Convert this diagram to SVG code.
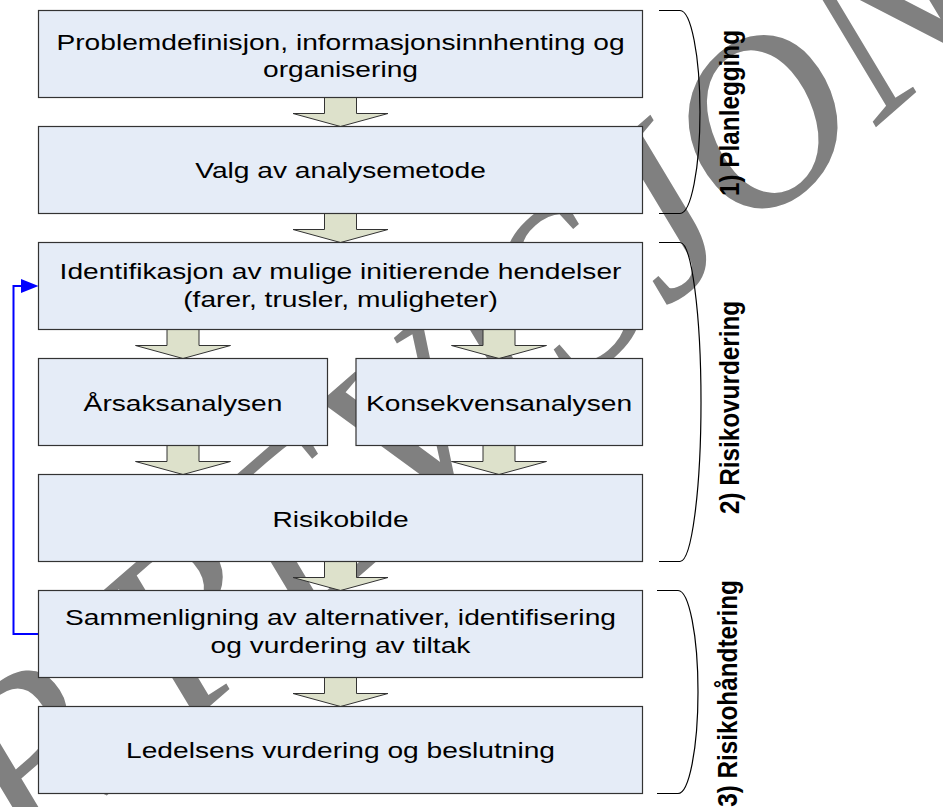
<svg xmlns="http://www.w3.org/2000/svg" xmlns:xlink="http://www.w3.org/1999/xlink" width="943" height="807" viewBox="0 0 943 807">
<style>
.box{fill:#E5ECF7;stroke:#333;stroke-width:1.2}
.t{font-family:"Liberation Sans",Arial,sans-serif;font-size:21.5px;fill:#000;text-anchor:middle}
.lbl{font-family:"Liberation Sans",Arial,sans-serif;font-size:24.3px;font-weight:bold;fill:#000;text-anchor:middle}
.brace{fill:none;stroke:#000;stroke-width:1.2}
.blk{fill:#DDE1CB;stroke:#333;stroke-width:1}
.wm{font-family:"Liberation Serif","Times New Roman",serif;font-style:italic;font-size:240px;fill:#808080;text-anchor:end}
</style>
<defs>
<path id="blk" d="M-16,0 H16 V16 H47.5 L0,29 L-47.5,16 H-16 Z"/>
</defs>
<rect width="943" height="807" fill="#fff"/>
<g id="watermark">
<text class="wm" transform="translate(998,21) rotate(-41)">UNDER REVISJON</text>
</g>
<g id="connectors">
<use href="#blk" class="blk" x="340.5" y="97.5"/>
<use href="#blk" class="blk" x="340.5" y="213.5"/>
<use href="#blk" class="blk" x="183" y="329.5"/>
<use href="#blk" class="blk" x="499" y="329.5"/>
<use href="#blk" class="blk" x="183" y="445.5"/>
<use href="#blk" class="blk" x="499" y="445.5"/>
<use href="#blk" class="blk" x="340.5" y="561.5"/>
<use href="#blk" class="blk" x="340.5" y="677.5"/>
<polyline points="38.5,634 13.5,634 13.5,286 22,286" fill="none" stroke="#0000FF" stroke-width="2"/>
<polygon points="21,279 38.5,286 21,293" fill="#0000FF"/>
</g>
<g id="n1"><rect class="box" x="38.5" y="10.5" width="604" height="87"/>
<text class="t" transform="translate(340.5,0) scale(1.31,1)" y="50">Problemdefinisjon, informasjonsinnhenting og</text>
<text class="t" transform="translate(340.5,0) scale(1.31,1)" y="77">organisering</text></g>
<g id="n2"><rect class="box" x="38.5" y="126.5" width="604" height="87"/>
<text class="t" transform="translate(340.5,0) scale(1.31,1)" y="178">Valg av analysemetode</text></g>
<g id="n3"><rect class="box" x="38.5" y="242.5" width="604" height="87"/>
<text class="t" transform="translate(340.5,0) scale(1.31,1)" y="279.5">Identifikasjon av mulige initierende hendelser</text>
<text class="t" transform="translate(340.5,0) scale(1.31,1)" y="307">(farer, trusler, muligheter)</text></g>
<g id="n4"><rect class="box" x="38.5" y="358.5" width="289" height="87"/>
<text class="t" transform="translate(183,0) scale(1.31,1)" y="411">Årsaksanalysen</text></g>
<g id="n5"><rect class="box" x="356" y="358.5" width="286.5" height="87"/>
<text class="t" transform="translate(499,0) scale(1.31,1)" y="411">Konsekvensanalysen</text></g>
<g id="n6"><rect class="box" x="38.5" y="474.5" width="604" height="87"/>
<text class="t" transform="translate(340.5,0) scale(1.31,1)" y="527">Risikobilde</text></g>
<g id="n7"><rect class="box" x="38.5" y="590.5" width="604" height="87"/>
<text class="t" transform="translate(340.5,0) scale(1.31,1)" y="625.5">Sammenligning av alternativer, identifisering</text>
<text class="t" transform="translate(340.5,0) scale(1.31,1)" y="653">og vurdering av tiltak</text></g>
<g id="n8"><rect class="box" x="38.5" y="706.5" width="604" height="87"/>
<text class="t" transform="translate(340.5,0) scale(1.31,1)" y="758">Ledelsens vurdering og beslutning</text></g>
<g id="phase1">
<path class="brace" d="M659,10.5 H680 A20,101.5 0 0 1 680,213.5 H659"/>
<text class="lbl" transform="translate(739,113) scale(1.15,1) rotate(-90)">1) Planlegging</text>
</g>
<g id="phase2">
<path class="brace" d="M659,242.5 H680 A21,159.5 0 0 1 680,561.5 H659"/>
<text class="lbl" transform="translate(739,407.5) scale(1.15,1) rotate(-90)">2) Risikovurdering</text>
</g>
<g id="phase3">
<path class="brace" d="M657,590.5 H678 A20,101.5 0 0 1 678,793.5 H657"/>
<text class="lbl" transform="translate(737,693.5) scale(1.15,1) rotate(-90)">3) Risikohåndtering</text>
</g>
</svg>
